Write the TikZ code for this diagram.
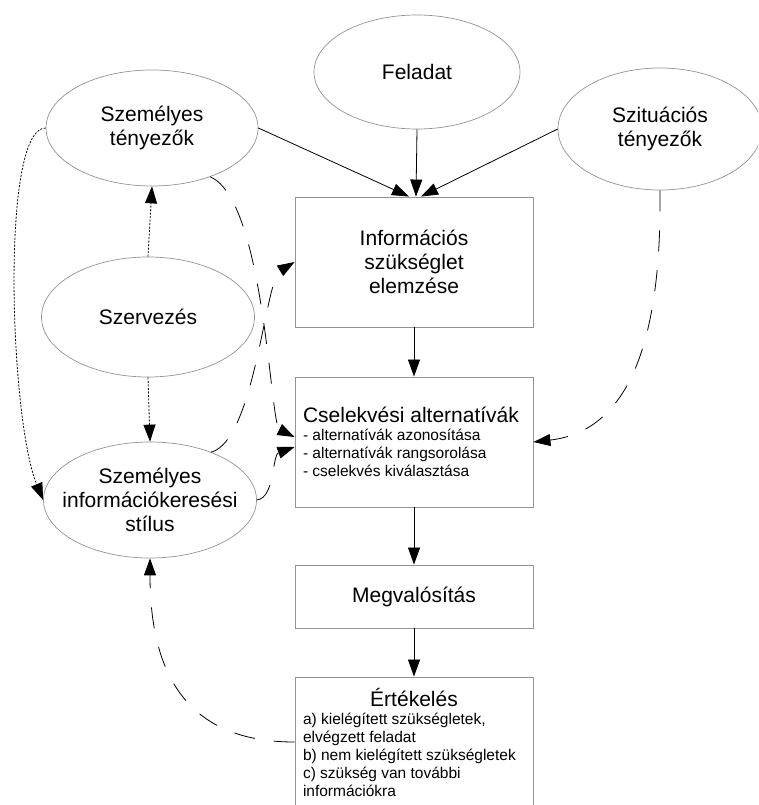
\documentclass[tikz,border=0pt]{standalone}
\usepackage{fontspec}
\setmainfont{Liberation Sans}
\usepackage{tikz}
\usetikzlibrary{shapes.geometric, arrows.meta, calc}

\newcommand{\mainsz}{\fontsize{21}{24}\selectfont}
\newcommand{\subsz}{\fontsize{15.5}{18}\selectfont}

\tikzset{
    ell/.style={ellipse, draw=gray!85, line width=0.7pt, inner xsep=-30pt, inner ysep=-20pt,
        align=center, font=\mainsz},
    box/.style={rectangle, draw=gray!85, line width=0.9pt, inner xsep=8pt,
        minimum width=238pt, align=center, font=\mainsz},
    listbox/.style={box, text width=222pt, align=flush left},
    link/.style={draw, line width=0.8pt, -{Triangle[length=17pt, width=12pt]}},
    dotlink/.style={link, dash pattern=on 2pt off 1.5pt},
    dashlink/.style={link, dash pattern=on 21pt off 19pt},
}

\begin{document}
\begin{tikzpicture}[x=1pt, y=-1pt]
    \useasboundingbox (0, 0) rectangle (758, 805);
    \clip (0, 0) rectangle (758, 805);

    % ellipses
    \node[ell, minimum width=206pt, minimum height=114pt] (feladat) at (417, 72) {Feladat};
    \node[ell, minimum width=212pt, minimum height=116pt] (szemt) at (152, 128) {Személyes\\tényezők};
    \node[ell, minimum width=204pt, minimum height=122pt] (sit) at (660, 129) {Szituációs\\tényezők};
    \node[ell, minimum width=213pt, minimum height=120pt] (szerv) at (148, 317) {Szervezés};
    \node[ell, minimum width=213pt, minimum height=116pt] (stilus) at (150, 500)
        {Személyes\\információkeresési\\stílus};

    % boxes
    \node[box, minimum height=130pt] (info) at (414, 262) {Információs\\szükséglet\\elemzése};
    \node[listbox, minimum height=130pt] (alt) at (414, 442)
        {Cselekvési alternatívák\par
         \subsz - alternatívák azonosítása\par
         - alternatívák rangsorolása\par
         - cselekvés kiválasztása\par};
    \node[box, minimum height=63pt] (megv) at (414, 596.5) {Megvalósítás};
    \node[listbox, minimum height=130pt] (ert) at (414, 742)
        {{\centering Értékelés\par}
         \subsz a) kielégített szükségletek,\par
         elvégzett feladat\par
         b) nem kielégített szükségletek\par
         c) szükség van további\par
         információkra\par};

    % main flow
    \draw[link] (szemt.east) -- ($(info.north)+(-5, 0)$);
    \draw[link] (feladat.south) -- ($(info.north)+(2, 0)$);
    \draw[link] (sit.west) -- ($(info.north)+(7, 0)$);
    \draw[link] (info.south) -- (alt.north);
    \draw[link] (alt.south) -- (megv.north);
    \draw[link] (megv.south) -- (ert.north);

    % dotted
    \draw[dotlink] (szerv.north) -- (szemt.south);
    \draw[dotlink] (szerv.south) -- (stilus.north);
    \draw[dotlink] (szemt.west) .. controls (0, 128) and (10, 420) .. (stilus.west);

    % dashed
    \draw[dashlink] (szemt.-40) .. controls (265, 200) and (270, 425) .. ($(alt.west)+(0, -5)$);
    \draw[dashlink] (stilus.38) .. controls (255, 440) and (265, 280) .. (info.west);
    \draw[dashlink] (stilus.east) .. controls (275, 498) and (272, 455) .. ($(alt.west)+(0, 5)$);
    \draw[dashlink] (sit.south) .. controls (662, 360) and (620, 432) .. (alt.east);
    \draw[dashlink] (ert.west) .. controls (200, 742) and (150, 690) .. (stilus.south);
\end{tikzpicture}
\end{document}
